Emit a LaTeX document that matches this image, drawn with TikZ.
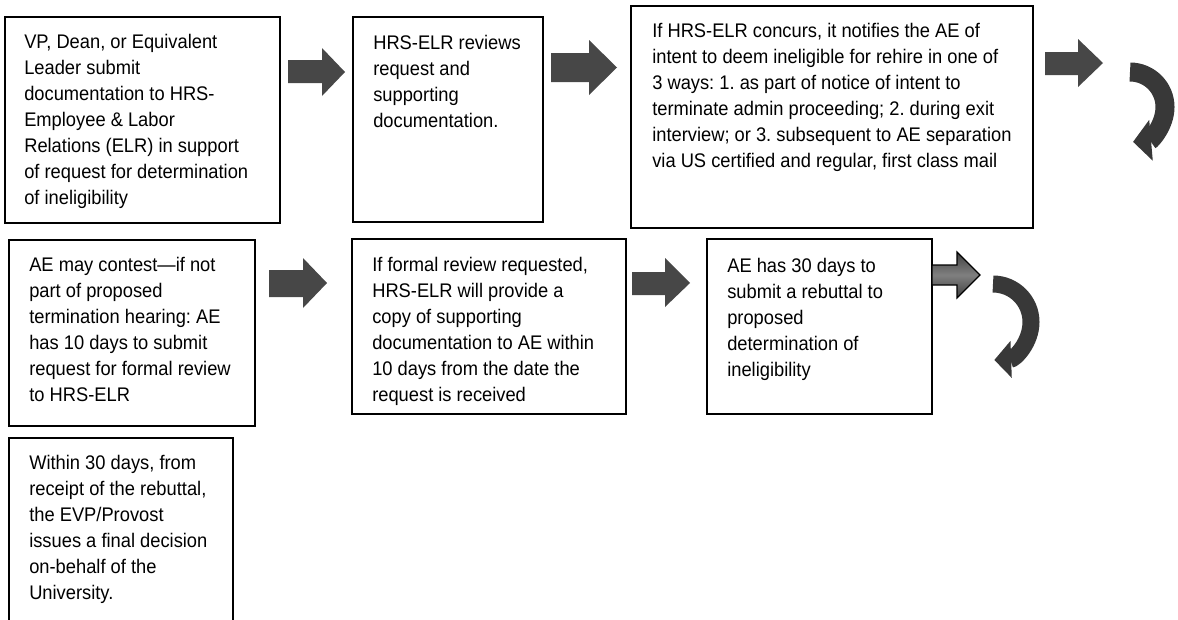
\documentclass[tikz,border=0pt]{standalone}
\usepackage{fontspec}
\setmainfont[FakeStretch=0.93]{Liberation Sans}
\frenchspacing
\usetikzlibrary{arrows.meta,fit}
\tikzset{%
    stepbox/.style={inner sep=0pt,outer sep=0pt,shape=rectangle,draw,line width=1.1pt},
    steptext/.style={inner sep=0pt,anchor=north west,align=left,font=\fontsize{14}{18.5}\selectfont},
    blockarrow/.style={fill=black!72,draw=none},
    outlinearrow/.style={draw=black,line width=0.8pt,top color=black!75,bottom color=black!75,middle color=black!50},
    turnarrow/.style={draw=black!78,line width=0.475cm,-{Triangle[width=1cm,length=0.45cm]}},
    smallturnarrow/.style={draw=black!78,line width=0.425cm,-{Triangle[width=0.9cm,length=0.42cm]}},
}

\begin{document}
\begin{tikzpicture}[x=0.025cm,y=-0.025cm]
      \useasboundingbox (0,0) rectangle (1178,619);
      \clip (0,0) rectangle (1178,619);

      % first row
      \node [stepbox,fit={(5,17) (280,223)}] (submit) {};
      \node [stepbox,fit={(353,17) (543,222)}] (review) {};
      \node [stepbox,fit={(631,6) (1033,228)}] (notify) {};
      \node [steptext] (submit text) at (24,34) {VP, Dean, or Equivalent\\Leader submit\\documentation to HRS-\\Employee \& Labor\\Relations (ELR) in support\\of request for determination\\of ineligibility};
      \node [steptext] (review text) at (373,35) {HRS-ELR reviews\\request and\\supporting\\documentation.};
      \node [steptext] (notify text) at (652,23) {If HRS-ELR concurs, it notifies the AE of\\intent to deem ineligible for rehire in one of\\3 ways: 1. as part of notice of intent to\\terminate admin proceeding; 2. during exit\\interview; or 3. subsequent to AE separation\\via US certified and regular, first class mail};

      % second row
      \node [stepbox,fit={(9,240) (255,426)}] (contest) {};
      \node [stepbox,fit={(352,239) (626,414)}] (copy) {};
      \node [stepbox,fit={(707,239) (932,414)}] (rebuttal) {};
      \node [steptext] (contest text) at (29,257) {AE may contest---if not\\part of proposed\\termination hearing: AE\\has 10 days to submit\\request for formal review\\to HRS-ELR};
      \node [steptext] (copy text) at (372,257) {If formal review requested,\\HRS-ELR will provide a\\copy of supporting\\documentation to AE within\\10 days from the date the\\request is received};
      \node [steptext] (rebuttal text) at (727,258) {AE has 30 days to\\submit a rebuttal to\\proposed\\determination of\\ineligibility};

      % third row
      \node [stepbox,fit={(9,438) (233,640)}] (decision) {};
      \node [steptext] (decision text) at (29,455) {Within 30 days, from\\receipt of the rebuttal,\\the EVP/Provost\\issues a final decision\\on-behalf of the\\University.};

      % block arrows
      \draw [blockarrow] (288,60) -- (322,60) -- (322,48) -- (345,72) -- (322,96) -- (322,83) -- (288,83) -- cycle;
      \draw [blockarrow] (551,53) -- (589,53) -- (589,40) -- (617,67.5) -- (589,95) -- (589,82) -- (551,82) -- cycle;
      \draw [blockarrow] (1045,52) -- (1078,52) -- (1078,39) -- (1103,63) -- (1078,87) -- (1078,75) -- (1045,75) -- cycle;
      \draw [blockarrow] (269,270) -- (303,270) -- (303,258) -- (327,283) -- (303,308) -- (303,297) -- (269,297) -- cycle;
      \draw [blockarrow] (632,272) -- (665,272) -- (665,258) -- (690,283) -- (665,307) -- (665,295) -- (632,295) -- cycle;
      \draw [outlinearrow] (932,265) -- (957,265) -- (957,252) -- (980,275) -- (957,298) -- (957,285) -- (932,285) -- cycle;

      % turning arrows
      \draw [turnarrow] (1130,72) arc [start angle=-90,end angle=85,radius=35];
      \draw [smallturnarrow] (993,284) arc [start angle=-90,end angle=88,radius=38];
    \end{tikzpicture}
\end{document}
